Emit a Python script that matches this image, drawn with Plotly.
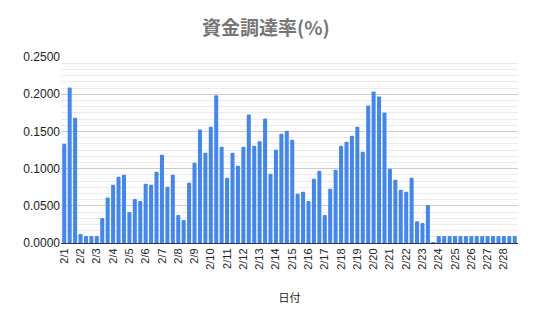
import plotly.graph_objects as go

days = [f"2/{d}" for d in range(1, 29)]
hours = ["00:00", "08:00", "16:00"]
categories = [f"{d} {h}" for d in days for h in hours]

funding_rate = [
    0.1335, 0.2090, 0.1685,
    0.0121, 0.0094, 0.0094,
    0.0094, 0.0337, 0.0611,
    0.0782, 0.0890, 0.0917,
    0.0418, 0.0593, 0.0566,
    0.0796, 0.0782, 0.0957,
    0.1187, 0.0755, 0.0917,
    0.0378, 0.0310, 0.0809,
    0.1079, 0.1524, 0.1213,
    0.1564, 0.1987, 0.1294,
    0.0876, 0.1213, 0.1038,
    0.1294, 0.1726, 0.1308,
    0.1366, 0.1672, 0.0930,
    0.1254, 0.1470, 0.1510,
    0.1389, 0.0661, 0.0688,
    0.0566, 0.0863, 0.0971,
    0.0378, 0.0728, 0.0984,
    0.1308, 0.1362, 0.1443,
    0.1564, 0.1227, 0.1847,
    0.2036, 0.1969, 0.1753,
    0.0998, 0.0849, 0.0715,
    0.0688, 0.0876, 0.0292,
    0.0270, 0.0512, 0.0013,
    0.0094, 0.0094, 0.0094,
    0.0094, 0.0094, 0.0094,
    0.0094, 0.0094, 0.0094,
    0.0094, 0.0094, 0.0094,
    0.0094, 0.0094, 0.0094,
]

title_text = "資金調達率(%)"
x_title = "日付"

fig = go.Figure(
    go.Bar(
        x=categories,
        y=funding_rate,
        marker=dict(color="#4285F4", line=dict(width=0), cornerradius=1.5),
        hoverinfo="x+y",
    )
)

fig.update_layout(
    width=535,
    height=322,
    margin=dict(l=61, r=17, t=57, b=79),
    paper_bgcolor="white",
    plot_bgcolor="white",
    bargap=0.26,
    showlegend=False,
    font=dict(family="Liberation Sans, Arial, sans-serif", color="#222222"),
    title=dict(
        text=f"<b>{title_text}</b>",
        x=0.497,
        xanchor="center",
        y=0.912,
        yanchor="middle",
        font=dict(family="Noto Sans CJK JP, sans-serif", size=19, color="#757575"),
    ),
)

fig.update_xaxes(
    type="category",
    tickmode="array",
    tickvals=categories[::3],
    ticktext=days,
    tickangle=-90,
    tickfont=dict(size=11, color="#222222"),
    showgrid=False,
    showline=True,
    linecolor="#333333",
    linewidth=1,
    ticks="",
    range=[-0.6, len(categories) - 0.4],
    title=dict(
        text=x_title,
        font=dict(family="Noto Sans CJK JP, sans-serif", size=11, color="#222222"),
        standoff=25,
    ),
)

fig.update_yaxes(
    range=[0, 0.25],
    dtick=0.05,
    tickformat=".4f",
    tickfont=dict(size=12, color="#222222"),
    showgrid=True,
    gridcolor="#cccccc",
    gridwidth=1,
    zeroline=False,
    ticks="",
    minor=dict(dtick=0.05 / 6, showgrid=True, gridcolor="#ebebeb", gridwidth=1),
)

fig.write_html("out.html")
